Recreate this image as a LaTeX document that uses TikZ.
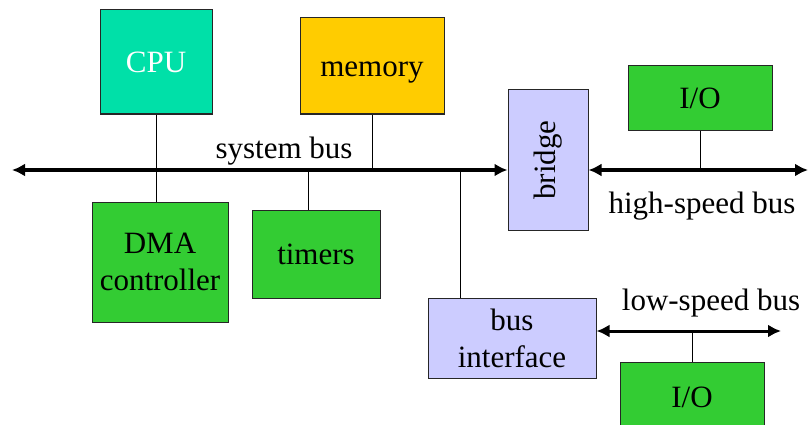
\documentclass[tikz,border=0pt]{standalone}
\usepackage{fontspec}
\setmainfont{Liberation Serif}
\usetikzlibrary{arrows.meta}

\definecolor{cpucol}{RGB}{0,224,168}
\definecolor{memcol}{RGB}{255,204,0}
\definecolor{devcol}{RGB}{51,204,51}
\definecolor{bridgecol}{RGB}{204,204,255}

\tikzset{
	box/.style={draw=black!85,line width=1pt,inner sep=0pt,align=center},
	bus/.style={line width=3.6pt,>={Latex[length=13pt,width=13pt]}},
	tap/.style={line width=1pt}
}

\begin{document}
\begin{tikzpicture}[x=1pt,y=-1pt,font=\fontsize{31}{37}\selectfont]
	\useasboundingbox (0,0) rectangle (810,425);
	
	%boxes
	\node[box,fill=cpucol,text=white,minimum width=112pt,minimum height=104pt] (cpu) at (156,62) {CPU};
	\node[box,fill=memcol,minimum width=144pt,minimum height=96pt] (mem) at (372,66) {};
	\node (memt) at (372,73) {memory};
	\node[box,fill=devcol,minimum width=136pt,minimum height=120pt] (dma) at (160,262) {DMA\\controller};
	\node[box,fill=devcol,minimum width=128pt,minimum height=88pt] (tim) at (316,254) {timers};
	\node[box,fill=bridgecol,minimum width=80pt,minimum height=140pt] (bridge) at (548,160) {};
	\node[rotate=90] at (bridge.center) {bridge};
	\node[box,fill=devcol,minimum width=144pt,minimum height=64pt] (io1) at (700,98) {I/O};
	\node[box,fill=bridgecol,minimum width=168pt,minimum height=80pt] (bif) at (512,338) {bus\\interface};
	\node[box,fill=devcol,minimum width=144pt,minimum height=80pt] (io2) at (692,402) {};
	\node at (692,397) {I/O};
	
	%buses
	\coordinate (sysL) at (12,170);
	\coordinate (hsR) at (808,170);
	\coordinate (lsR) at (781,331);
	\draw[bus,<->] (sysL) -- (bridge.west |- sysL);
	\draw[bus,<->] (bridge.east |- hsR) -- (hsR);
	\draw[bus,<->,line width=3pt] (bif.east |- lsR) -- (lsR);
	
	%taps
	\draw[tap] (cpu.south) -- (dma.north -| cpu.south);
	\draw[tap] (mem.south) -- (mem.south |- sysL);
	\draw[tap] (tim.north -| 308,0) -- (308,170);
	\draw[tap] (bif.north -| 460,0) -- (460,170);
	\draw[tap] (io1.south) -- (io1.south |- hsR);
	\draw[tap] (io2.north) -- (io2.north |- lsR);
	
	%labels
	\node (sysl) at (284,151) {system bus};
	\node (hsl) at (702,206) {high-speed bus};
	\node (lsl) at (711,303) {low-speed bus};
\end{tikzpicture}
\end{document}
